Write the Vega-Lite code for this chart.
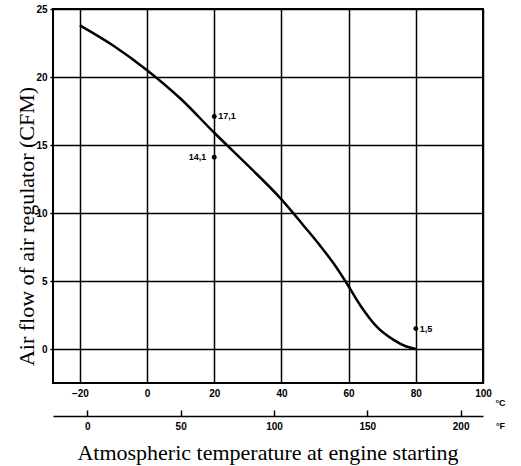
{
  "$schema": "https://vega.github.io/schema/vega-lite/v6.json",
  "width": 430,
  "height": 374,
  "autosize": {"type": "none"},
  "padding": {"left": 53, "top": 9, "right": 38, "bottom": 83},
  "background": "white",
  "config": {"view": {"stroke": "black", "strokeWidth": 2}, "font": "Liberation Sans"},
  "title": {"text": "Atmospheric temperature at engine starting", "orient": "bottom", "anchor": "middle", "font": "Liberation Serif", "fontSize": 22, "fontWeight": "normal", "color": "black", "offset": 12},
  "datasets": {
    "curve": [
      {"celsius": -20, "flow": 23.8},
      {"celsius": -10, "flow": 22.3},
      {"celsius": 0, "flow": 20.5},
      {"celsius": 10, "flow": 18.4},
      {"celsius": 20, "flow": 15.9},
      {"celsius": 30, "flow": 13.5},
      {"celsius": 40, "flow": 11.0},
      {"celsius": 46.5, "flow": 9.1},
      {"celsius": 51.5, "flow": 7.6},
      {"celsius": 55.5, "flow": 6.3},
      {"celsius": 59, "flow": 5.0},
      {"celsius": 63.5, "flow": 3.2},
      {"celsius": 68.5, "flow": 1.6},
      {"celsius": 73.5, "flow": 0.65},
      {"celsius": 77, "flow": 0.2},
      {"celsius": 80, "flow": 0.0}
    ],
    "points": [
      {"celsius": 20, "flow": 17.1, "label": "17,1"},
      {"celsius": 20, "flow": 14.1, "label": "14,1"},
      {"celsius": 80, "flow": 1.5, "label": "1,5"}
    ],
    "fahrenheit": [
      {"f": 0}, {"f": 50}, {"f": 100}, {"f": 150}, {"f": 200}
    ]
  },
  "layer": [
    {
      "encoding": {
        "x": {"field": "celsius", "type": "quantitative",
          "scale": {"domain": [-28, 100], "nice": false, "zero": false},
          "axis": {"orient": "bottom", "values": [-20, 0, 20, 40, 60, 80, 100], "format": "d",
            "grid": true, "gridColor": "black", "gridWidth": 1.5, "gridOpacity": 1,
            "domain": false, "ticks": false, "labelPadding": 5, "labelFlush": false,
            "labelFont": "Liberation Sans", "labelFontWeight": "bold", "labelFontSize": 10, "labelColor": "black",
            "title": "°C", "titleX": 447, "titleY": 19, "titleAngle": 0, "titleAlign": "center", "titleBaseline": "middle",
            "titleFont": "Liberation Sans", "titleFontSize": 9, "titleFontWeight": "bold", "titleColor": "black"}},
        "y": {"field": "flow", "type": "quantitative",
          "scale": {"domain": [-2.5, 25], "nice": false, "zero": false},
          "axis": {"values": [0, 5, 10, 15, 20, 25], "format": "d",
            "grid": true, "gridColor": "black", "gridWidth": 1.5, "gridOpacity": 1,
            "domain": false, "tickSize": 3, "tickColor": "black", "tickWidth": 1.5, "labelPadding": 3,
            "labelFont": "Liberation Sans", "labelFontWeight": "bold", "labelFontSize": 10, "labelColor": "black",
            "title": "Air flow of air regulator (CFM)", "titleFont": "Liberation Serif", "titleFontSize": 22,
            "titleFontWeight": "normal", "titleColor": "black", "titleX": -27, "titleY": 217, "titleAngle": -90,
            "titleAlign": "center", "titleBaseline": "middle"}}
      },
      "layer": [
        {"data": {"name": "curve"}, "mark": {"type": "line", "interpolate": "monotone", "color": "black", "strokeWidth": 2.5}},
        {"data": {"name": "points"}, "mark": {"type": "point", "filled": true, "color": "black", "size": 24, "opacity": 1}},
        {"data": {"name": "points"}, "transform": [{"filter": "datum.flow != 14.1"}],
          "mark": {"type": "text", "align": "left", "baseline": "middle", "dx": 4, "font": "Liberation Sans", "fontWeight": "bold", "fontSize": 9, "color": "black"},
          "encoding": {"text": {"field": "label"}}},
        {"data": {"name": "points"}, "transform": [{"filter": "datum.flow == 14.1"}],
          "mark": {"type": "text", "align": "right", "baseline": "middle", "dx": -8, "font": "Liberation Sans", "fontWeight": "bold", "fontSize": 9, "color": "black"},
          "encoding": {"text": {"field": "label"}}}
      ]
    },
    {
      "data": {"name": "fahrenheit"},
      "mark": {"type": "point", "opacity": 0},
      "encoding": {
        "x": {"field": "f", "type": "quantitative",
          "scale": {"domain": [-18.4, 212], "nice": false, "zero": false},
          "axis": {"orient": "bottom", "offset": 33, "values": [0, 50, 100, 150, 200], "format": "d",
            "grid": false, "domain": true, "domainColor": "black", "domainWidth": 1.5,
            "ticks": true, "tickSize": -6, "tickColor": "black", "tickWidth": 1.5, "labelPadding": 11,
            "labelFont": "Liberation Sans", "labelFontWeight": "bold", "labelFontSize": 10, "labelColor": "black",
            "title": "°F", "titleX": 447, "titleY": 9, "titleAngle": 0, "titleAlign": "center", "titleBaseline": "middle",
            "titleFont": "Liberation Sans", "titleFontSize": 9, "titleFontWeight": "bold", "titleColor": "black"}}
      }
    }
  ],
  "resolve": {"scale": {"x": "independent"}, "axis": {"x": "independent"}}
}
